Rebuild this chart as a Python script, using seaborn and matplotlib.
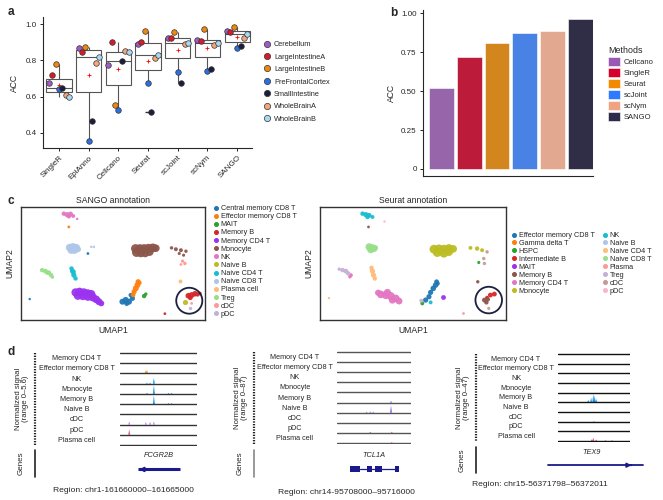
import numpy as np
import pandas as pd
import matplotlib
matplotlib.use("Agg")
import matplotlib.pyplot as plt
import seaborn as sns
from matplotlib.lines import Line2D
from matplotlib.patches import Patch, Circle, Rectangle
from matplotlib.transforms import blended_transform_factory

# ---- panel a: ACC per method, one dot per dataset
methods_a = ["SingleR", "EpiAnno", "Cellcano", "Seurat", "scJoint", "scNym", "SANGO"]
datasets = ["Cerebellum", "LargeIntestineA", "LargeIntestineB", "PreFrontalCortex",
            "SmallIntestine", "WholeBrainA", "WholeBrainB"]
cerebellum = [0.673, 0.871, 0.775, 0.889, 0.922, 0.913, 0.963]
large_int_a = [0.718, 0.845, 0.902, 0.902, 0.926, 0.908, 0.958]
large_int_b = [0.779, 0.876, 0.553, 0.963, 0.956, 0.972, 0.983]
prefrontal = [0.644, 0.358, 0.526, 0.677, 0.734, 0.744, 0.867]
small_int = [0.649, 0.467, 0.799, 0.516, 0.673, 0.755, 0.882]
whole_brain_a = [0.607, 0.788, 0.852, 0.815, 0.891, 0.886, 0.922]
whole_brain_b = [0.601, 0.821, 0.845, 0.830, 0.898, 0.895, 0.945]
dataset_colors = ["#a05cc4", "#d81b2c", "#f0870f", "#2c6fe0", "#1c1c3c", "#f2a67a", "#a9d9f2"]

# ---- panel b: overall ACC
methods_b = ["Cellcano", "SingleR", "Seurat", "scJoint", "scNym", "SANGO"]
acc_b = [0.52, 0.72, 0.81, 0.87, 0.885, 0.96]
colors_b = ["#9b59b6", "#d7002a", "#f28a00", "#2f7bff", "#f0a382", "#2d2a4a"]

# ---- panel c: UMAP points (x, y, size)
sango_cells = ["Central memory CD8 T", "Effector memory CD8 T", "MAIT", "Memory B", "Memory CD4 T",
               "Monocyte", "NK", "Naive B", "Naive CD4 T", "Naive CD8 T", "Plasma cell", "Treg", "cDC", "pDC"]
sango_colors = ["#1f77b4", "#ff7f0e", "#2ca02c", "#d62728", "#9a32f0", "#8c564b", "#e377c2",
                "#bcbd22", "#17becf", "#aec7e8", "#ffbb78", "#98df8a", "#ff9896", "#c5b0d5"]
sango_pts = {
    "Central memory CD8 T": [(30.3, 5.5, 18), (31.3, 6, 20), (32.3, 5.5, 18), (33.3, 6.5, 14), (31.6, 5, 14),
                             (32.8, 7.5, 10), (20, 20, 4), (2.6, 6.3, 3)],
    "Effector memory CD8 T": [(35, 11.5, 14), (34.8, 10.5, 18), (34.3, 9.5, 18), (33.8, 8.5, 14), (33.5, 7.6, 12),
                              (35.4, 11.2, 10), (14.3, 28, 4)],
    "MAIT": [(36.8, 7.2, 10), (37.3, 7.8, 6)],
    "Memory B": [(50, 7.3, 16), (51, 7.5, 18), (52, 7.9, 16), (50.6, 6.7, 12), (52.8, 7.7, 10), (53.5, 8, 6),
                 (43, 1.9, 4)],
    "Memory CD4 T": [(16.3, 8.3, 35), (17.5, 8.5, 35), (18.8, 8.3, 35), (20, 8, 35), (21, 7.8, 35), (17, 7.3, 35),
                     (18.5, 7.2, 35), (20, 7, 35), (21.5, 6.8, 35), (22.5, 6.2, 30), (23.3, 5.5, 25), (24, 5, 18)],
    "Monocyte": [(34.2, 21.5, 40), (35.5, 21.5, 40), (36.8, 21.5, 40), (38.1, 21.6, 40), (39.4, 21.7, 40),
                 (40.3, 21.6, 30), (34.5, 20.3, 40), (35.8, 20.2, 40), (37.1, 20.2, 40), (38.4, 20.5, 35),
                 (45, 21.7, 6), (46.3, 21.3, 8), (47.8, 21, 8), (49.3, 20.7, 6), (47.3, 20, 5), (48.6, 19.5, 5)],
    "NK": [(12.8, 32, 10), (13.8, 31.7, 14), (14.8, 31.9, 12), (15.6, 31.3, 8), (14.3, 31.2, 10), (16.8, 30.4, 3)],
    "Naive B": [(49.1, 5.3, 14)],
    "Naive CD4 T": [(15.1, 15.5, 10), (15.6, 14.5, 14), (15.8, 13.5, 14), (16.3, 12.5, 10), (15.3, 14.7, 10)],
    "Naive CD8 T": [(14.5, 21.8, 28), (15.5, 22, 30), (16.5, 21.8, 28), (15, 21, 28), (16, 21, 28), (17, 21.3, 20),
                    (21, 22, 3), (21.8, 22, 3)],
    "Plasma cell": [(47.6, 11.7, 8)],
    "Treg": [(6.3, 15, 10), (7.3, 14.7, 12), (8.3, 14.2, 12), (9, 13.5, 10), (7.8, 14.3, 10), (9.4, 12.9, 6)],
    "cDC": [(48.3, 17.7, 6), (49, 17, 6), (47.8, 16.7, 4), (51, 5, 4)],
    "pDC": [(50.6, 3.5, 6)],
}
seurat_cells = ["Effector memory CD8 T", "Gamma delta T", "HSPC", "Intermediate B", "MAIT", "Memory B",
                "Memory CD4 T", "Monocyte", "NK", "Naive B", "Naive CD4 T", "Naive CD8 T", "Plasma", "Treg",
                "cDC", "pDC"]
seurat_colors = ["#1f77b4", "#ff7f0e", "#2ca02c", "#d62728", "#9a32f0", "#8c564b", "#e377c2", "#bcbd22",
                 "#17becf", "#aec7e8", "#ffbb78", "#98df8a", "#ff9896", "#c5b0d5", "#c49c94", "#f7b6d2"]
seurat_pts = {
    "Effector memory CD8 T": [(35.1, 11.5, 12), (34.8, 10.5, 16), (34.1, 9.5, 16), (33.3, 8.3, 14), (32.8, 7, 14),
                              (31.8, 6, 14), (35.4, 11, 10)],
    "HSPC": [(47.8, 17.3, 5), (30.8, 5, 8)],
    "Intermediate B": [(51.3, 7.5, 12), (52.5, 7.8, 12), (50.3, 6.7, 8)],
    "MAIT": [(37.1, 7, 12)],
    "Memory B": [(14.6, 28, 4), (47.5, 11.5, 6), (49.5, 6, 12), (50.1, 5.3, 10), (50.6, 6.2, 8)],
    "Memory CD4 T": [(9.3, 13.5, 8), (9, 13, 6), (18.3, 7.7, 30), (19.8, 7.5, 34), (21.3, 7.2, 34), (22.8, 6.5, 30),
                     (23.8, 5.7, 24), (20.3, 8.3, 26), (21.8, 6, 26), (17.5, 8.2, 20)],
    "Monocyte": [(34.3, 21.3, 40), (35.8, 21.4, 40), (37.3, 21.3, 40), (38.8, 21.5, 40), (40.1, 21.4, 30),
                 (35.3, 20.3, 40), (37.3, 20.1, 40), (38.8, 20.5, 35), (45.3, 21.7, 8), (47.3, 21.5, 10),
                 (48.8, 21, 8)],
    "NK": [(12.8, 32, 10), (13.8, 31.7, 14), (14.8, 31.5, 12), (15.8, 31, 8), (14.3, 31, 10), (33.3, 5.3, 8)],
    "Naive CD4 T": [(15.5, 15.7, 10), (15.8, 14.7, 14), (16.1, 13.5, 14), (16.5, 12.5, 10), (2.7, 6.6, 3)],
    "Naive CD8 T": [(14.8, 22, 28), (15.8, 21.7, 28), (15.3, 21.2, 28), (16.3, 21.5, 24), (16.8, 21.8, 10)],
    "Plasma": [(43.1, 2, 4)],
    "Treg": [(6.8, 15, 10), (7.8, 14.7, 12), (8.5, 14, 10), (5.8, 15.3, 6), (30.5, 5.8, 8)],
    "cDC": [(49.3, 18.5, 6), (49.5, 17, 6), (50.3, 20.5, 6), (50.8, 3.5, 5)],
    "pDC": [(19.3, 29.7, 3)],
}

# ---- panel d: coverage tracks
track_names = ["Memory CD4 T", "Effector memory CD8 T", "NK", "Monocyte", "Memory B",
               "Naive B", "cDC", "pDC", "Plasma cell"]
# (track index, position 0-100 across the window, height as share of row, colour)
peaks_fcgr2b = [(1, 33.5, 0.3, "#f28a1e"), (1, 35, 0.35, "#f28a1e"),
                (2, 35, 0.1, "#1a9be6"), (2, 39, 0.1, "#1a9be6"), (2, 44, 0.55, "#1a9be6"),
                (3, 35, 0.1, "#1a9be6"), (3, 44, 0.85, "#1a9be6"), (3, 63, 0.1, "#1a9be6"), (3, 67, 0.1, "#1a9be6"),
                (4, 44, 0.85, "#1a9be6"), (4, 63, 0.1, "#1a9be6"), (4, 67, 0.1, "#1a9be6"),
                (6, 12, 0.3, "#c77ee0"), (6, 33.5, 0.25, "#c77ee0"), (6, 39, 0.25, "#c77ee0"), (6, 44, 0.3, "#c77ee0"),
                (7, 12, 0.55, "#e0559f")]
peaks_tcl1a = [(4, 73, 0.15, "#3a5fd0"), (5, 73, 0.7, "#9060e0"), (5, 40, 0.1, "#9060e0"),
               (5, 45, 0.12, "#9060e0"), (5, 49, 0.1, "#9060e0"),
               (7, 45, 0.12, "#e0559f"), (7, 74, 0.12, "#e0559f"), (8, 74, 0.08, "#e0559f")]
peaks_tex9 = [(4, 30, 0.05, "#1a90e0"), (4, 42, 0.25, "#1a90e0"), (4, 46, 0.5, "#1a90e0"),
              (4, 49, 0.85, "#1a90e0"), (4, 51, 0.7, "#1a90e0"), (4, 53, 0.35, "#1a90e0"),
              (6, 50, 0.06, "#666666"),
              (8, 47, 0.2, "#e0559f"), (8, 49, 0.35, "#e0559f"), (8, 53, 0.15, "#e0559f"),
              (8, 66, 0.08, "#e0559f"), (8, 75, 0.08, "#e0559f")]
ranges_d = ["(range 0\u20135.6)", "(range 0\u201387)", "(range 0\u201347)"]
genes_d = ["FCGR2B", "TCL1A", "TEX9"]
regions_d = ["Region: chr1-161660000\u2013161665000", "Region: chr14-95708000\u201395716000",
             "Region: chr15-56371798\u201356372011"]
tcl1a_exons = [(18, 31.5), (40.5, 47.3), (51.8, 60.8), (78.8, 83.3)]

sns.set_theme(style="ticks")
plt.rcParams['font.family'] = ['Liberation Sans', 'DejaVu Sans']
plt.rcParams['axes.linewidth'] = 0.8

W, H = 663, 500
fig = plt.figure(figsize=(W / 100, H / 100), dpi=100)


def box(x0, y0, x1, y1):
    # pixel box (top-left origin) -> figure fraction rect
    return [x0 / W, 1 - y1 / H, (x1 - x0) / W, (y1 - y0) / H]


def fpt(x, y):
    return x / W, 1 - y / H


# %% panel a
ax_a = fig.add_axes(box(43, 17, 252, 148))
df_a = pd.DataFrame(dict(zip(datasets, [cerebellum, large_int_a, large_int_b, prefrontal,
                                         small_int, whole_brain_a, whole_brain_b])), index=methods_a)
df_a = df_a.reset_index(names="method").melt(id_vars="method", var_name="dataset", value_name="acc")
sns.boxplot(data=df_a, x="method", y="acc", order=methods_a, width=0.85, color="white",
            linecolor="#555555", linewidth=0.8, showcaps=False, showmeans=True,
            meanprops=dict(marker="+", markeredgecolor="red", markersize=3, markeredgewidth=0.6),
            flierprops=dict(marker="_", markeredgecolor="#333333", markersize=4), ax=ax_a)
sns.stripplot(data=df_a, x="method", y="acc", order=methods_a, hue="dataset", hue_order=datasets,
              palette=dataset_colors, dodge=True, jitter=False, size=4, linewidth=0.5,
              edgecolor="#333333", legend=False, zorder=3, ax=ax_a)
ax_a.set_xlim(-0.54, 6.5)
ax_a.set_ylim(0.317, 1.04)
ax_a.set_yticks([0.4, 0.6, 0.8, 1.0], ["0.4", "0.6", "0.8", "1.0"])
ax_a.set_xlabel("")
ax_a.set_ylabel("ACC", fontsize=6.2, labelpad=5)
ax_a.tick_params(labelsize=5.8, length=2.5, width=0.7, pad=2)
for lab in ax_a.get_xticklabels():
    lab.set_rotation(45)
    lab.set_ha("right")
    lab.set_rotation_mode("anchor")
sns.despine(ax=ax_a)
handles_a = [Line2D([], [], marker="o", ls="", markerfacecolor=c, markeredgecolor="#333333",
                    markeredgewidth=0.5, markersize=4.5) for c in dataset_colors]
ax_a.legend(handles_a, datasets, loc="upper left", bbox_to_anchor=fpt(263, 41),
            bbox_transform=fig.transFigure, frameon=False, fontsize=5.3, handletextpad=0.3,
            handlelength=1.2, labelspacing=0.72, borderaxespad=0, borderpad=0)

# %% panel b
ax_b = fig.add_axes(box(423, 10, 593, 176))
sns.barplot(x=methods_b, y=acc_b, order=methods_b, hue=methods_b, hue_order=methods_b,
            palette=colors_b, width=0.89, edgecolor="#ffffff", linewidth=0.4, legend=False, ax=ax_b)
ax_b.set_xlim(-0.67, 5.46)
ax_b.set_ylim(-0.045, 1.02)
ax_b.set_yticks([0, 0.25, 0.5, 0.75, 1.0], ["0", "0.25", "0.50", "0.75", "1.00"])
ax_b.set_xticks([])
ax_b.set_ylabel("ACC", fontsize=6.2, labelpad=4)
ax_b.tick_params(labelsize=5.8, length=2.5, width=0.7, pad=2)
sns.despine(ax=ax_b)
handles_b = [Patch(facecolor=c, edgecolor="white", linewidth=0.4) for c in colors_b]
leg_b = ax_b.legend(handles_b, methods_b, title="Methods", loc="upper left",
                    bbox_to_anchor=fpt(608, 46), bbox_transform=fig.transFigure, frameon=False,
                    fontsize=5.5, title_fontsize=6.4, handlelength=1.6, handleheight=1.45,
                    handletextpad=0.5, labelspacing=0.26, borderaxespad=0, borderpad=0)
leg_b._legend_box.align = "left"

# %% panel c
def draw_umap(rect, pts, cells, colors, title, xmax):
    ax = fig.add_axes(rect)
    for cell, col in zip(cells, colors):
        if cell not in pts:
            continue
        p = pd.DataFrame(pts[cell], columns=["u1", "u2", "s"])
        sns.scatterplot(data=p, x="u1", y="u2", s=p["s"], color=col, linewidth=0, alpha=0.95,
                        legend=False, ax=ax)
    ax.set_xlim(0, xmax)
    ax.set_ylim(0, 34)
    ax.set_xticks([])
    ax.set_yticks([])
    ax.set_xlabel("UMAP1", fontsize=6.2, labelpad=4)
    ax.set_ylabel("UMAP2", fontsize=6.2, labelpad=5)
    ax.set_title(title, fontsize=6.2, pad=3)
    for sp in ax.spines.values():
        sp.set_linewidth(1.0)
        sp.set_color("#333333")
    return ax


ax_c1 = draw_umap(box(21, 207, 205, 320), sango_pts, sango_cells, sango_colors, "SANGO annotation", 55)
ax_c1.add_patch(Circle((50.3, 5.8), 3.9, fill=False, edgecolor="#1c2040", linewidth=1.3))
handles_c1 = [Line2D([], [], marker="o", ls="", color=c, markersize=2.6) for c in sango_colors]
ax_c1.legend(handles_c1, sango_cells, loc="upper left", bbox_to_anchor=fpt(212, 205),
             bbox_transform=fig.transFigure, frameon=False, fontsize=5.2, handletextpad=0.2,
             handlelength=1.0, labelspacing=0.15, borderaxespad=0, borderpad=0)

ax_c2 = draw_umap(box(320, 207, 506, 320), seurat_pts, seurat_cells, seurat_colors, "Seurat annotation", 56)
ax_c2.add_patch(Circle((50.8, 6.0), 4.0, fill=False, edgecolor="#1c2040", linewidth=1.3))
handles_c2 = [Line2D([], [], marker="o", ls="", color=c, markersize=2.6) for c in seurat_colors]
ax_c2.legend(handles_c2, seurat_cells, loc="upper left", bbox_to_anchor=fpt(510, 232), ncol=2,
             bbox_transform=fig.transFigure, frameon=False, fontsize=5.2, handletextpad=0.2,
             handlelength=1.0, labelspacing=0.12, columnspacing=0.9, borderaxespad=0, borderpad=0)

# %% panel d
d_layout = [
    # dotted x, label centre x, track x0, x1, top line y, bottom line y, genes y0, y1, region y, line colour
    dict(vx=35, lx=77, tx0=120, tx1=197, ty0=353, ty1=445, gy0=450, gy1=477, ry=491, rx=123, lc="#333333"),
    dict(vx=254, lx=295, tx0=337, tx1=411, ty0=352, ty1=443, gy0=450, gy1=477, ry=492, rx=346, lc="#555555"),
    dict(vx=476, lx=516, tx0=558, tx1=630, ty0=354, ty1=441, gy0=447, gy1=473, ry=485, rx=540, lc="#111111"),
]
peaks_all = [peaks_fcgr2b, peaks_tcl1a, peaks_tex9]

for k, (lay, peaks) in enumerate(zip(d_layout, peaks_all)):
    ax = fig.add_axes(box(lay["tx0"], lay["ty0"] - 1, lay["tx1"], lay["ty1"] + 1))
    n = len(track_names)
    step = (lay["ty1"] - lay["ty0"]) / n
    ax.set_xlim(0, 100)
    ax.set_ylim(-n - 1 / step, 1 / step)
    ax.axis("off")
    for i in range(n + 1):
        ax.axhline(-i, color=lay["lc"], linewidth=1.0)
    for tr, pos, h, col in peaks:
        base = -(tr + 1)
        ax.fill([pos - 1.3, pos, pos + 1.3], [base, base + h, base], color=col, linewidth=0)
    trans = blended_transform_factory(fig.transFigure, ax.transData)
    for i, name in enumerate(track_names):
        ax.text(lay["lx"] / W, -i - 0.55, name, transform=trans, ha="center", va="center", fontsize=5.2)
    # dotted side line and labels
    fig.add_artist(Line2D([lay["vx"] / W] * 2, [1 - lay["ty0"] / H, 1 - (lay["ty1"] + 1) / H],
                          transform=fig.transFigure, color="#222222", linewidth=1.6,
                          linestyle=(0, (0.6, 0.6))))
    fig.text(*fpt(lay["vx"] - 13, (lay["ty0"] + lay["ty1"]) / 2), "Normalized signal\n" + ranges_d[k],
             rotation=90, ha="center", va="center", fontsize=5.6, linespacing=1.15)
    fig.add_artist(Line2D([lay["vx"] / W] * 2, [1 - lay["gy0"] / H, 1 - lay["gy1"] / H],
                          transform=fig.transFigure,
                          color="#888888" if k == 1 else "#222222", linewidth=1.2))
    fig.text(*fpt(lay["vx"] - 14, (lay["gy0"] + lay["gy1"]) / 2), "Genes", rotation=90,
             ha="center", va="center", fontsize=5.8)
    fig.text(*fpt(lay["rx"], lay["ry"]), regions_d[k], ha="center", va="center", fontsize=6.1)

    # gene model
    gax = fig.add_axes(box(lay["tx0"], lay["gy0"], lay["tx1"], lay["gy1"]))
    gax.set_xlim(0, 100)
    gax.set_ylim(0, 1)
    gax.axis("off")
    gax.text(50 if k != 2 else 47, 0.78, genes_d[k], ha="center", va="center", fontsize=5.3,
             fontstyle="italic")
    navy = "#1a1a8c"
    if k == 0:
        gax.plot([24, 78], [0.28, 0.28], color=navy, linewidth=2.2, solid_capstyle="butt")
        gax.annotate("", xy=(21, 0.28), xytext=(30, 0.28),
                     arrowprops=dict(arrowstyle="-|>", color=navy, lw=1.5, mutation_scale=6))
    elif k == 1:
        gax.plot([31.5, 80], [0.28, 0.28], color=navy, linewidth=0.9)
        for a, b in tcl1a_exons:
            gax.add_patch(Rectangle((a, 0.17), b - a, 0.22, color=navy, linewidth=0))
    else:
        gax.plot([-14, 118], [0.3, 0.3], color=navy, linewidth=1.3, clip_on=False)
        gax.annotate("", xy=(106, 0.3), xytext=(98, 0.3), annotation_clip=False,
                     arrowprops=dict(arrowstyle="-|>", color=navy, lw=1.3, mutation_scale=6))

# panel letters
for letter, (x, y) in zip("abcd", [(8, 12), (390, 13), (8, 201), (8, 352)]):
    fig.text(*fpt(x, y), letter, fontsize=8.5, fontweight="bold", ha="left", va="center")

fig.savefig("out.png", dpi=100)
